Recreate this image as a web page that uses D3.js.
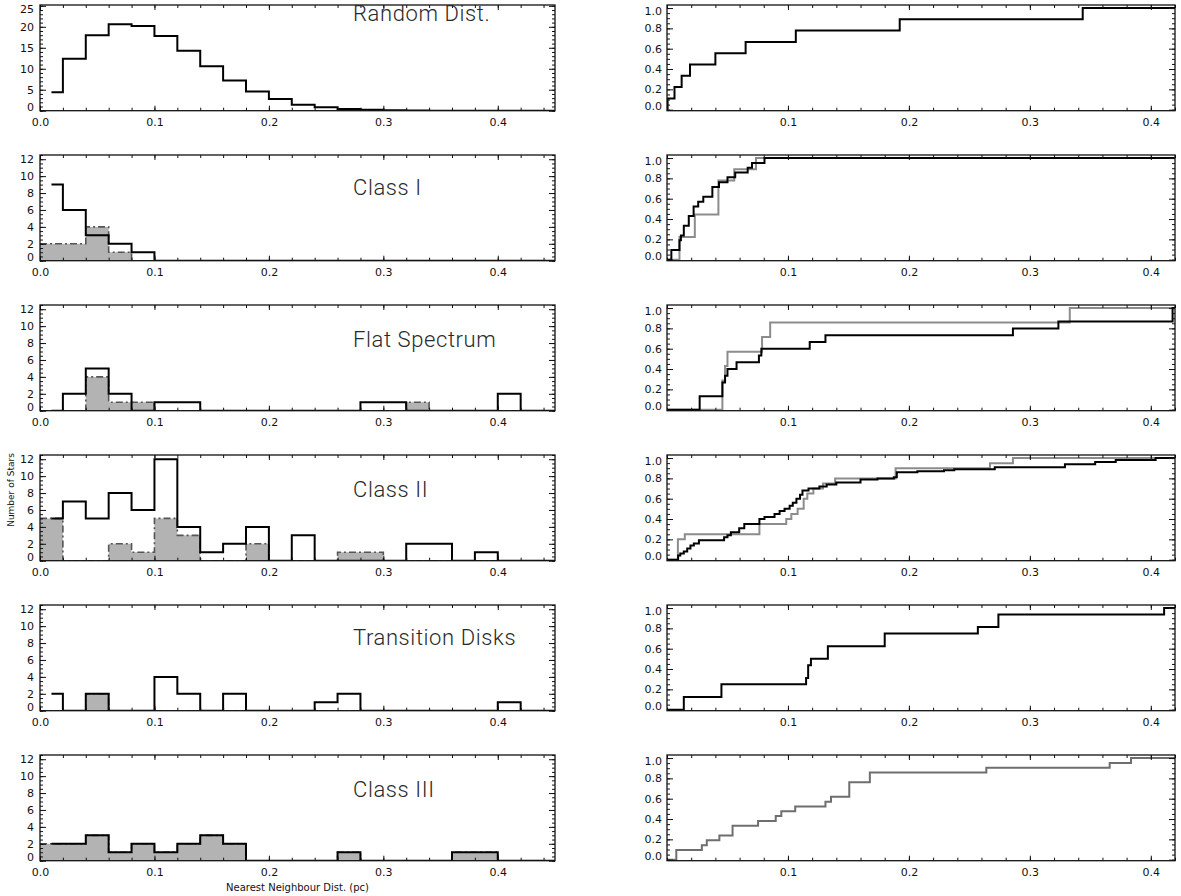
<!DOCTYPE html>
<html>
<head>
<meta charset="utf-8">
<script src="https://cdn.jsdelivr.net/npm/d3@7"></script>
<style>
  body { margin: 0; background: #fff; }
  svg text { font-family: "DejaVu Sans", sans-serif; fill: #111; }
</style>
</head>
<body>
<svg id="fig" width="1181" height="896"></svg>
<script>
// ---- data ----
const binWidth = 0.02   // pc
const panelNames = ["Random Dist.", "Class I", "Flat Spectrum", "Class II", "Transition Disks", "Class III"]

// histogram counts per 0.02 pc bin, starting at 0.00
const randomCounts = [4.4, 12.4, 18, 20.6, 20.2, 17.8, 14.3, 10.6, 7.2, 4.6, 2.8, 1.4, 0.8, 0.4, 0.2, 0.1, 0.05, 0, 0, 0, 0, 0, 0]
const class1Black  = [9, 6, 3, 2, 1, 0, 0, 0, 0, 0, 0, 0, 0, 0, 0, 0, 0, 0, 0, 0, 0, 0, 0]
const class1Gray   = [2, 2, 4, 1, 0, 0, 0, 0, 0, 0, 0, 0, 0, 0, 0, 0, 0, 0, 0, 0, 0, 0, 0]
const flatBlack    = [0, 2, 5, 2, 0, 1, 1, 0, 0, 0, 0, 0, 0, 0, 1, 1, 0, 0, 0, 0, 2, 0, 0]
const flatGray     = [0, 0, 4, 1, 1, 0, 0, 0, 0, 0, 0, 0, 0, 0, 0, 0, 1, 0, 0, 0, 0, 0, 0]
const class2Black  = [5, 7, 5, 8, 6, 12, 4, 1, 2, 4, 0, 3, 0, 0, 0, 0, 2, 2, 0, 1, 0, 0, 0]
const class2Gray   = [5, 0, 0, 2, 1, 5, 3, 0, 0, 2, 0, 0, 0, 1, 1, 0, 0, 0, 0, 0, 0, 0, 0]
const transBlack   = [2, 0, 2, 0, 0, 4, 2, 0, 2, 0, 0, 0, 1, 2, 0, 0, 0, 0, 0, 0, 1, 0, 0]
const transGray    = [0, 0, 2, 0, 0, 0, 0, 0, 0, 0, 0, 0, 0, 0, 0, 0, 0, 0, 0, 0, 0, 0, 0]
const class3Black  = [2, 2, 3, 1, 2, 1, 2, 3, 2, 0, 0, 0, 0, 1, 0, 0, 0, 0, 1, 1, 0, 0, 0]
const class3Gray   = [2, 2, 3, 1, 2, 1, 2, 3, 2, 0, 0, 0, 0, 1, 0, 0, 0, 0, 1, 1, 0, 0, 0]

// cumulative distributions: [distance (pc), fraction] at each step
const cdfRandom = [[0.0005, 0.111], [0.0062, 0.222], [0.0121, 0.333], [0.019, 0.444], [0.040, 0.556],
  [0.065, 0.667], [0.1065, 0.778], [0.1924, 0.889], [0.3437, 1.0]]
const cdfClass1Black = [[0.0036, 0.095], [0.0103, 0.19], [0.0115, 0.238], [0.0139, 0.333], [0.018, 0.429],
  [0.022, 0.524], [0.0258, 0.571], [0.030, 0.619], [0.0375, 0.714], [0.043, 0.762], [0.050, 0.81],
  [0.0564, 0.857], [0.0667, 0.905], [0.0703, 0.952], [0.0806, 1.0]]
const cdfClass1Gray = [[0.0103, 0.222], [0.023, 0.444], [0.0425, 0.778], [0.0556, 0.889], [0.0736, 1.0]]
const cdfFlatBlack = [[0.027, 0.133], [0.0458, 0.267], [0.048, 0.333], [0.050, 0.4], [0.0575, 0.467],
  [0.076, 0.533], [0.078, 0.6], [0.118, 0.667], [0.131, 0.733], [0.286, 0.8], [0.3236, 0.867], [0.418, 1.0]]
const cdfFlatGray = [[0.0458, 0.286], [0.048, 0.429], [0.050, 0.571], [0.0786, 0.714], [0.0853, 0.857], [0.333, 1.0]]
const cdfClass2Black = [[0.0092, 0.04], [0.011, 0.06], [0.0139, 0.08], [0.0167, 0.11], [0.0194, 0.14],
  [0.0222, 0.16], [0.0264, 0.19], [0.0472, 0.22], [0.050, 0.24], [0.0528, 0.27], [0.0597, 0.31],
  [0.0639, 0.35], [0.0764, 0.40], [0.0806, 0.42], [0.0889, 0.45], [0.0931, 0.48], [0.0972, 0.50],
  [0.1014, 0.53], [0.104, 0.56], [0.107, 0.60], [0.110, 0.64], [0.112, 0.68], [0.117, 0.70],
  [0.126, 0.72], [0.132, 0.74], [0.140, 0.76], [0.160, 0.79], [0.174, 0.80], [0.1875, 0.81],
  [0.190, 0.86], [0.207, 0.87], [0.229, 0.88], [0.2375, 0.89], [0.271, 0.91], [0.329, 0.94],
  [0.354, 0.96], [0.371, 0.98], [0.404, 1.0]]
const cdfClass2Gray = [[0.009, 0.2], [0.0147, 0.25], [0.0764, 0.35], [0.0986, 0.4], [0.1028, 0.45],
  [0.108, 0.5], [0.113, 0.6], [0.116, 0.65], [0.121, 0.7], [0.129, 0.75], [0.139, 0.8], [0.189, 0.9],
  [0.267, 0.95], [0.286, 1.0]]
const cdfTransBlack = [[0.0139, 0.125], [0.045, 0.25], [0.115, 0.3125], [0.1167, 0.4375], [0.119, 0.5],
  [0.133, 0.625], [0.180, 0.75], [0.257, 0.8125], [0.274, 0.9375], [0.411, 1.0]]
const cdfClass3Gray = [[0.0077, 0.095], [0.0288, 0.143], [0.0329, 0.19], [0.0433, 0.238], [0.0542, 0.333],
  [0.0753, 0.381], [0.0899, 0.429], [0.0945, 0.476], [0.106, 0.524], [0.131, 0.571], [0.1356, 0.619],
  [0.1507, 0.762], [0.1677, 0.857], [0.264, 0.905], [0.366, 0.952], [0.3836, 1.0]]

// tick values
const histXTicks = [0, 0.1, 0.2, 0.3, 0.4]
const cdfXTicks = [0.1, 0.2, 0.3, 0.4]
const randomYTicks = [0, 5, 10, 15, 20, 25]
const countYTicks = [0, 2, 4, 6, 8, 10, 12]
const cdfYTicks = [0, 0.2, 0.4, 0.6, 0.8, 1.0]

const panels = [
  {name: panelNames[0], black: randomCounts, gray: null, cdfBlack: cdfRandom, cdfGray: null, yMax: 25.2, yTicks: randomYTicks, yMinor: 1, ty: 16},
  {name: panelNames[1], black: class1Black, gray: class1Gray, cdfBlack: cdfClass1Black, cdfGray: cdfClass1Gray, yMax: 12.5, yTicks: countYTicks, yMinor: 0.5, ty: 40},
  {name: panelNames[2], black: flatBlack, gray: flatGray, cdfBlack: cdfFlatBlack, cdfGray: cdfFlatGray, yMax: 12.5, yTicks: countYTicks, yMinor: 0.5, ty: 42},
  {name: panelNames[3], black: class2Black, gray: class2Gray, cdfBlack: cdfClass2Black, cdfGray: cdfClass2Gray, yMax: 12.5, yTicks: countYTicks, yMinor: 0.5, ty: 42},
  {name: panelNames[4], black: transBlack, gray: transGray, cdfBlack: cdfTransBlack, cdfGray: null, yMax: 12.5, yTicks: countYTicks, yMinor: 0.5, ty: 40},
  {name: panelNames[5], black: class3Black, gray: class3Gray, cdfBlack: null, cdfGray: cdfClass3Gray, yMax: 12.5, yTicks: countYTicks, yMinor: 0.5, ty: 42, grayCdfColor: "#6e6e6e"}
]

// ---- layout ----
const panelTop = 5, panelStep = 150, panelH = 105.7
const leftRange = [40, 555], rightRange = [667, 1175]

const svg = d3.select("#fig")
const xHist = d3.scaleLinear().domain([0, 0.45]).range(leftRange)
const xCdf = d3.scaleLinear().domain([0, 0.42]).range(rightRange)

function frame(g, x, y, top, bottom, xTicks, xMinorStep, yTicks, yMinorStep, labelPad) {
    const xd = x.domain(), yd = y.domain()
    const xMinor = d3.range(0, xd[1] + 1e-9, xMinorStep)
    const yMinor = d3.range(yTicks[0], yd[1] + 1e-9, yMinorStep)
    const clean = s => { s.select(".domain").remove(); s.selectAll("line").attr("stroke", "#111").attr("stroke-width", 1) }

    // bottom
    g.append("g").attr("transform", "translate(0," + bottom + ")")
        .call(d3.axisBottom(x).tickValues(xTicks).tickSize(-5).tickSizeOuter(0).tickPadding(8).tickFormat(d3.format(".1f")))
        .call(clean)
        .call(s => s.selectAll("text").attr("font-size", 11).attr("font-family", "DejaVu Sans").attr("fill", "#111"))
    g.append("g").attr("transform", "translate(0," + bottom + ")")
        .call(d3.axisBottom(x).tickValues(xMinor).tickSize(-3).tickSizeOuter(0).tickFormat(""))
        .call(clean)
    // top
    g.append("g").attr("transform", "translate(0," + top + ")")
        .call(d3.axisTop(x).tickValues(xTicks).tickSize(-5).tickSizeOuter(0).tickFormat(""))
        .call(clean)
    g.append("g").attr("transform", "translate(0," + top + ")")
        .call(d3.axisTop(x).tickValues(xMinor).tickSize(-3).tickSizeOuter(0).tickFormat(""))
        .call(clean)
    // left
    const fmt = yd[1] < 2 ? d3.format(".1f") : d3.format("d")
    g.append("g").attr("transform", "translate(" + x.range()[0] + ",0)")
        .call(d3.axisLeft(y).tickValues(yTicks).tickSize(-6).tickSizeOuter(0).tickPadding(labelPad).tickFormat(fmt))
        .call(clean)
        .call(s => s.selectAll("text")
            .attr("font-size", 11).attr("font-family", "DejaVu Sans").attr("fill", "#111")
            .attr("dy", d => (bottom - y(d) < 4) ? "0em" : (y(d) - top < 4) ? "0.62em" : "0.32em"))
    g.append("g").attr("transform", "translate(" + x.range()[0] + ",0)")
        .call(d3.axisLeft(y).tickValues(yMinor).tickSize(-3).tickSizeOuter(0).tickFormat(""))
        .call(clean)
    // right
    g.append("g").attr("transform", "translate(" + x.range()[1] + ",0)")
        .call(d3.axisRight(y).tickValues(yTicks).tickSize(-6).tickSizeOuter(0).tickFormat(""))
        .call(clean)
    g.append("g").attr("transform", "translate(" + x.range()[1] + ",0)")
        .call(d3.axisRight(y).tickValues(yMinor).tickSize(-3).tickSizeOuter(0).tickFormat(""))
        .call(clean)

    g.append("rect")
        .attr("x", x.range()[0]).attr("y", top)
        .attr("width", x.range()[1] - x.range()[0]).attr("height", bottom - top)
        .attr("fill", "none").attr("stroke", "#111").attr("stroke-width", 1.3)
}

function histPoints(counts, start) {
    const pts = counts.map((c, i) => [i * binWidth, c])
    pts.push([counts.length * binWidth, counts[counts.length - 1]])
    pts[0] = [start, counts[0]]
    return pts
}

panels.forEach((p, i) => {
    const top = panelTop + i * panelStep, bottom = top + panelH
    const g = svg.append("g")

    // ---- left: histogram ----
    const yH = d3.scaleLinear().domain([0, p.yMax]).range([bottom, top])
    const clipL = "clipL" + i
    svg.append("clipPath").attr("id", clipL).append("rect")
        .attr("x", leftRange[0]).attr("y", top - 2).attr("width", leftRange[1] - leftRange[0]).attr("height", bottom - top + 2)

    const histLine = d3.line().x(d => xHist(d[0])).y(d => yH(d[1])).curve(d3.curveStepAfter)
    const histArea = d3.area().x(d => xHist(d[0])).y0(yH(0)).y1(d => yH(d[1])).curve(d3.curveStepAfter)
    const lg = g.append("g").attr("clip-path", "url(#" + clipL + ")")

    if (p.gray) {
        lg.append("path").datum(histPoints(p.gray, 0))
            .attr("d", histArea).attr("fill", "#b3b3b3")
        lg.append("path").datum(histPoints(p.gray, 0))
            .attr("d", histLine).attr("fill", "none")
            .attr("stroke", "#555").attr("stroke-width", 1.6).attr("stroke-dasharray", "7,3,2,3")
    }
    lg.append("path").datum(histPoints(p.black, binWidth / 2))
        .attr("d", histLine).attr("fill", "none")
        .attr("stroke", "#000").attr("stroke-width", 2)

    frame(g, xHist, yH, top, bottom, histXTicks, 0.02, p.yTicks, p.yMinor, 6)

    g.append("text")
        .attr("x", 353).attr("y", top + p.ty)
        .attr("font-size", 22).attr("font-weight", 300)
        .style("font-family", "Roboto, 'DejaVu Sans', sans-serif")
        .style("letter-spacing", "0.6px")
        .style("fill", "#2a2a2a")
        .text(p.name)

    // ---- right: cumulative distribution ----
    const yC = d3.scaleLinear().domain([-0.01, 1.03]).range([bottom, top])
    const clipR = "clipR" + i
    svg.append("clipPath").attr("id", clipR).append("rect")
        .attr("x", rightRange[0]).attr("y", top).attr("width", rightRange[1] - rightRange[0]).attr("height", bottom - top)
    const cdfLine = d3.line().x(d => xCdf(d[0])).y(d => yC(d[1])).curve(d3.curveStepAfter)
    const rg = g.append("g").attr("clip-path", "url(#" + clipR + ")")
    const full = steps => [[0, 0]].concat(steps, [[0.42, steps[steps.length - 1][1]]])

    if (p.cdfGray) {
        rg.append("path").datum(full(p.cdfGray))
            .attr("d", cdfLine).attr("fill", "none")
            .attr("stroke", p.grayCdfColor || "#8c8c8c").attr("stroke-width", 2)
    }
    if (p.cdfBlack) {
        rg.append("path").datum(full(p.cdfBlack))
            .attr("d", cdfLine).attr("fill", "none")
            .attr("stroke", "#000").attr("stroke-width", 2)
    }

    frame(g, xCdf, yC, top, bottom, cdfXTicks, 0.02, cdfYTicks, 0.05, 5)
})

// axis titles
svg.append("text")
    .attr("transform", "translate(14,490) rotate(-90)")
    .attr("text-anchor", "middle")
    .attr("font-size", 9)
    .text("Number of Stars")

svg.append("text")
    .attr("x", (leftRange[0] + leftRange[1]) / 2).attr("y", 891)
    .attr("text-anchor", "middle")
    .attr("font-size", 10)
    .text("Nearest Neighbour Dist. (pc)")
</script>
</body>
</html>
